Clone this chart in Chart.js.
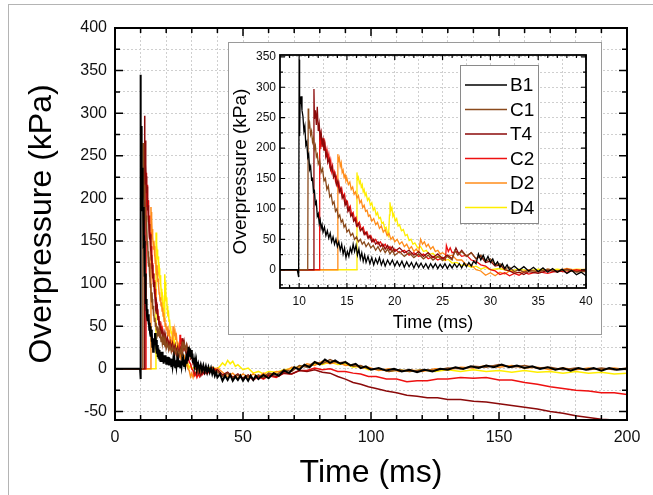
<!DOCTYPE html>
<html><head><meta charset="utf-8">
<script src="https://cdn.jsdelivr.net/npm/chart.js@4/dist/chart.umd.min.js"></script>
<style>
html,body{margin:0;padding:0;background:#fff;overflow:hidden;width:653px;height:495px;}
#outer{position:absolute;left:8px;top:4px;width:700px;height:600px;border:1px solid #b4b4b4;}
#main{position:absolute;left:0;top:0;}
#insetBox{position:absolute;left:228px;top:42px;width:372px;height:291px;border:1px solid #9a9a9a;background:#fff;}
#inset{position:absolute;left:229px;top:43px;}
</style></head>
<body>
<div id="outer"></div>
<canvas id="main" width="653" height="495"></canvas>
<div id="insetBox"></div>
<canvas id="inset" width="372" height="291"></canvas>
<script>
// ---------- DATA (time ms, overpressure kPa) ----------
const seriesNames = ['B1','C1','T4','C2','D2','D4'];

const B1 = [[0,0],[9.8,0],[9.95,-12],[10.0,345],[10.05,220],[10.1,272],[10.2,285],[10.3,262],[10.4,252],[10.5,228],[10.6,236],[10.7,205],[10.8,210],[10.9,185],[11.0,190],[11.1,165],[11.2,170],[11.3,148],[11.4,150],[11.5,128],[11.6,130],[11.7,108],[11.8,112],[11.9,88],[12.0,92],[12.1,76],[12.2,82],[12.3,68],[12.4,74],[12.5,62],[12.65,70],[12.8,56],[12.95,64],[13.1,52],[13.25,60],[13.4,46],[13.55,54],[13.7,42],[13.85,50],[14.0,38],[14.15,46],[14.3,32],[14.45,42],[14.6,26],[14.75,36],[14.9,20],[15.05,30],[15.2,22],[15.35,36],[15.5,28],[15.65,42],[15.8,30],[15.95,40],[16.1,24],[16.25,34],[16.4,18],[16.55,28],[16.7,14],[16.85,24],[17.0,12],[17.2,22],[17.4,10],[17.6,20],[17.8,8],[18.0,18],[18.2,10],[18.4,20],[18.6,8],[18.8,16],[19.0,6],[19.25,16],[19.5,8],[19.75,16],[20,6],[20.25,14],[20.5,6],[20.75,14],[21,4],[21.25,13],[21.5,5],[21.75,12],[22,3],[22.25,12],[22.5,4],[22.75,11],[23,3],[23.25,10],[23.5,2],[23.75,10],[24,3],[24.25,10],[24.5,2],[24.75,9],[25,3],[25.25,10],[25.5,2],[25.75,9],[26,3],[26.25,10],[26.5,4],[26.75,10],[27,3],[27.25,11],[27.5,5],[27.75,12],[28,6],[28.25,14],[28.5,10],[28.75,26],[29,16],[29.25,24],[29.5,14],[29.75,22],[30,12],[30.25,18],[30.5,8],[30.75,13],[31,4],[31.25,10],[31.5,2],[31.75,8],[32,0],[32.5,6],[33,-1],[33.5,5],[34,-2],[34.5,4],[35,-3],[35.5,3],[36,-4],[36.5,2],[37,-4],[37.5,1],[38,-6],[38.5,-1],[39,-8],[39.5,-4],[40,-10],
[41,-6],[42,-14],[43,-8],[44,-13],[45,-7],[46,-14],[47,-9],[48,-13],[49,-8],[50,-14],[51,-9],[52,-14],[53,-8],[54,-13],[55,-8],[56,-12],[58,-7],[60,-11],[62,-5],[64,-8],[66,-2],[68,-5],[70,2],[72,-1],[74,5],[76,2],[78,8],[80,5],[82,11],[84,7],[86,10],[88,6],[90,8],[92,4],[94,6],[96,1],[98,3],[100,-1],[103,1],[106,-2],[109,0],[112,-3],[115,-1],[118,-4],[121,-1],[124,-3],[127,0],[130,-1],[133,2],[136,0],[139,3],[142,1],[145,4],[148,2],[151,5],[154,2],[157,4],[160,1],[163,3],[166,0],[169,2],[172,-1],[175,1],[178,-2],[181,1],[184,-1],[187,1],[190,-2],[193,1],[196,-1],[200,0]];

const C1 = [[0,0],[10.9,0],[10.95,265],[11.0,232],[11.1,240],[11.2,222],[11.3,228],[11.4,210],[11.5,216],[11.6,198],[11.7,204],[11.8,186],[11.9,190],[12.0,174],[12.15,180],[12.3,160],[12.45,166],[12.6,146],[12.75,150],[12.9,132],[13.05,138],[13.2,120],[13.35,124],[13.5,108],[13.65,112],[13.8,96],[13.95,100],[14.1,86],[14.25,90],[14.4,78],[14.55,82],[14.7,70],[14.85,74],[15.0,62],[15.2,66],[15.4,56],[15.6,60],[15.8,50],[16.0,54],[16.2,46],[16.4,50],[16.6,42],[16.8,46],[17.0,38],[17.25,44],[17.5,36],[17.75,40],[18,32],[18.25,38],[18.5,30],[18.75,36],[19,28],[19.25,34],[19.5,26],[19.75,32],[20,24],[20.5,30],[21,22],[21.5,28],[22,20],[22.5,26],[23,18],[23.5,24],[24,16],[24.5,22],[25,15],[25.5,22],[26,16],[26.3,32],[26.6,24],[27,30],[27.5,22],[28,28],[28.5,18],[29,24],[29.5,14],[30,18],[30.5,8],[31,10],[31.5,2],[32,4],[32.5,-3],[33,0],[33.5,-4],[34,-1],[35,-3],[36,1],[37,-2],[38,0],[39,-4],[40,-3],
[42,-9],[44,-5],[46,-11],[48,-7],[50,-12],[52,-8],[54,-12],[56,-7],[58,-10],[60,-5],[63,-7],[66,-1],[69,-3],[72,4],[75,2],[78,8],[81,6],[84,11],[87,7],[90,8],[93,3],[96,4],[99,0],[103,0],[107,-3],[111,-1],[115,-3],[120,-1],[125,-2],[130,1],[135,0],[140,3],[145,2],[150,5],[155,2],[160,4],[165,1],[170,2],[175,-1],[180,1],[185,-1],[190,1],[195,-1],[200,1]];

const T4 = [[0,0],[11.5,0],[11.55,297],[11.6,248],[11.7,262],[11.8,238],[11.9,268],[12.0,228],[12.1,240],[12.2,218],[12.3,226],[12.4,206],[12.5,214],[12.6,196],[12.7,204],[12.8,186],[12.9,192],[13.0,176],[13.15,182],[13.3,164],[13.45,170],[13.6,152],[13.75,158],[13.9,140],[14.05,146],[14.2,128],[14.35,134],[14.5,118],[14.65,122],[14.8,106],[14.95,112],[15.1,96],[15.25,102],[15.4,88],[15.55,92],[15.7,80],[15.85,84],[16.0,72],[16.2,76],[16.4,64],[16.6,68],[16.8,58],[17.0,62],[17.2,52],[17.4,56],[17.6,46],[17.8,50],[18,42],[18.25,46],[18.5,38],[18.75,42],[19,34],[19.25,40],[19.5,32],[19.75,38],[20,30],[20.5,36],[21,28],[21.5,32],[22,24],[22.5,30],[23,22],[23.5,28],[24,20],[24.5,26],[25,18],[25.5,24],[26,18],[26.4,36],[26.7,26],[27,32],[27.5,22],[28,28],[28.5,18],[29,22],[29.5,12],[30,14],[30.5,6],[31,8],[31.5,0],[32,-2],[32.5,-6],[33,-4],[33.5,-8],[34,-3],[35,-6],[36,-1],[37,-4],[38,1],[39,-3],[40,-1],
[42,-7],[44,-4],[46,-10],[48,-6],[50,-11],[52,-7],[54,-12],[56,-8],[58,-11],[60,-7],[63,-9],[66,-5],[69,-6],[72,-2],[75,-3],[78,-1],[81,-4],[84,-5],[87,-9],[90,-12],[93,-16],[96,-18],[99,-21],[102,-23],[106,-26],[110,-28],[114,-31],[118,-32],[122,-34],[126,-34],[130,-36],[135,-36],[140,-38],[145,-39],[150,-41],[155,-43],[160,-45],[165,-47],[170,-50],[175,-52],[180,-55],[185,-57],[190,-59],[195,-60],[200,-60]];

const C2 = [[0,0],[12.1,0],[12.15,230],[12.2,198],[12.3,224],[12.4,202],[12.5,216],[12.6,196],[12.7,206],[12.8,190],[12.9,198],[13.0,182],[13.1,190],[13.2,172],[13.3,180],[13.4,162],[13.5,170],[13.6,154],[13.7,160],[13.8,146],[13.9,152],[14.0,138],[14.15,144],[14.3,128],[14.45,134],[14.6,118],[14.75,124],[14.9,108],[15.05,112],[15.2,98],[15.35,104],[15.5,90],[15.65,94],[15.8,82],[15.95,86],[16.1,72],[16.3,78],[16.5,66],[16.7,70],[16.9,58],[17.1,62],[17.3,52],[17.5,56],[17.75,46],[18,50],[18.25,42],[18.5,46],[18.75,38],[19,42],[19.25,34],[19.5,38],[19.75,30],[20,34],[20.5,28],[21,32],[21.5,24],[22,28],[22.5,22],[23,26],[23.5,18],[24,22],[24.5,16],[25,20],[25.3,16],[25.4,40],[25.6,30],[25.8,36],[26,28],[26.5,30],[27,22],[27.5,24],[28,16],[28.5,14],[29,8],[29.5,6],[30,0],[30.5,-2],[31,-8],[31.5,-5],[32,-10],[32.5,-6],[33,-9],[33.5,-4],[34,-7],[35,-3],[36,-6],[37,-2],[38,-4],[39,0],[40,-3],
[42,-8],[44,-5],[46,-11],[48,-7],[50,-12],[52,-8],[54,-13],[56,-9],[58,-12],[60,-8],[63,-10],[66,-5],[69,-6],[72,-2],[75,-2],[78,1],[81,-1],[84,0],[87,-3],[90,-3],[93,-5],[96,-6],[99,-9],[102,-9],[106,-12],[110,-12],[114,-15],[118,-14],[122,-14],[126,-12],[130,-12],[135,-10],[140,-11],[145,-10],[150,-13],[155,-13],[160,-16],[165,-18],[170,-21],[175,-23],[180,-25],[185,-26],[190,-28],[195,-28],[200,-30]];

const D2 = [[0,0],[14.0,0],[14.05,190],[14.1,178],[14.2,184],[14.3,170],[14.4,176],[14.5,160],[14.6,164],[14.7,152],[14.8,156],[14.9,146],[15.0,150],[15.15,140],[15.3,144],[15.45,132],[15.6,136],[15.75,124],[15.9,128],[16.05,118],[16.2,122],[16.35,110],[16.5,114],[16.65,102],[16.8,106],[16.95,96],[17.1,98],[17.25,88],[17.4,90],[17.6,80],[17.8,84],[18,74],[18.2,78],[18.4,68],[18.6,72],[18.8,62],[19,66],[19.2,56],[19.4,60],[19.6,50],[19.8,54],[20,46],[20.25,50],[20.5,42],[20.75,46],[21,38],[21.25,42],[21.5,34],[21.75,38],[22,30],[22.25,34],[22.5,28],[22.7,50],[22.9,42],[23.1,46],[23.3,38],[23.5,42],[23.75,34],[24,38],[24.25,30],[24.5,32],[24.75,26],[25,28],[25.5,22],[26,24],[26.5,16],[27,16],[27.5,8],[28,8],[28.5,0],[29,-2],[29.5,-9],[30,-5],[30.5,-10],[31,-4],[31.5,-7],[32,-2],[33,-5],[34,0],[35,-3],[36,1],[37,-2],[38,2],[39,-1],[40,1],
[42,-4],[44,-9],[46,-5],[48,-11],[50,-6],[52,-10],[54,-6],[56,-10],[58,-5],[60,-8],[63,-3],[66,-4],[69,2],[72,1],[75,6],[78,4],[81,9],[84,6],[87,8],[90,4],[93,5],[96,1],[99,2],[103,-2],[107,0],[111,-3],[115,-1],[120,-3],[125,0],[130,-1],[135,2],[140,1],[145,4],[150,2],[155,4],[160,1],[165,2],[170,-1],[175,1],[180,-1],[185,1],[190,-1],[195,1],[200,-1]];

const D4 = [[0,0],[16.0,0],[16.05,160],[16.1,148],[16.2,152],[16.3,142],[16.4,146],[16.5,136],[16.6,140],[16.7,128],[16.8,132],[16.9,122],[17.0,126],[17.15,114],[17.3,118],[17.45,106],[17.6,110],[17.75,98],[17.9,102],[18.05,90],[18.2,94],[18.35,84],[18.5,86],[18.65,76],[18.8,78],[18.95,68],[19.1,70],[19.25,60],[19.35,56],[19.45,90],[19.5,111],[19.6,98],[19.7,102],[19.8,88],[19.9,92],[20.05,80],[20.2,84],[20.35,72],[20.5,74],[20.7,64],[20.9,66],[21.1,56],[21.3,58],[21.5,48],[21.7,50],[21.9,42],[22.1,44],[22.4,36],[22.7,38],[23,30],[23.3,32],[23.6,25],[24,27],[24.4,20],[24.8,22],[25.2,15],[25.6,17],[26,11],[26.5,12],[27,7],[27.5,8],[28,4],[28.5,6],[29,1],[29.5,4],[30,0],[31,2],[32,-2],[33,1],[34,-2],[35,1],[36,-1],[37,1],[38,-1],[39,1],[40,0],
[41,3],[42,7],[43,4],[44,10],[45,6],[46,9],[47,3],[48,5],[50,-1],[52,1],[54,-5],[56,-3],[58,-6],[60,-3],[63,-4],[66,-1],[69,0],[72,3],[75,3],[78,6],[81,5],[84,8],[87,5],[90,6],[93,2],[96,3],[99,-1],[103,0],[107,-3],[111,-1],[115,-3],[120,-1],[125,-3],[130,-1],[135,-3],[140,-1],[145,-3],[150,-2],[155,-4],[160,-2],[165,-4],[170,-3],[175,-5],[180,-3],[185,-5],[190,-4],[195,-6],[200,-5]];

// tick labels / grid positions
const mainXLabels = [0,50,100,150,200];
const mainXGrid = [0,10,20,30,40,50,60,70,80,90,100,110,120,130,140,150,160,170,180,190,200];
const mainYLabels = [-50,0,50,100,150,200,250,300,350,400];
const mainYGrid = [-50,-25,0,25,50,75,100,125,150,175,200,225,250,275,300,325,350,375,400];
const insetXLabels = [10,15,20,25,30,35,40];
const insetXGrid = [10,12.5,15,17.5,20,22.5,25,27.5,30,32.5,35,37.5,40];
const insetXMinor = [9,10,11,12,13,14,15,16,17,18,19,20,21,22,23,24,25,26,27,28,29,30,31,32,33,34,35,36,37,38,39,40];
const insetYLabels = [0,50,100,150,200,250,300,350];
const insetYGrid = [-25,0,25,50,75,100,125,150,175,200,225,250,275,300,325,350];

// ---------- STYLE ----------
const seriesData = [B1, C1, T4, C2, D2, D4];
const seriesColors = ['#000000','#8a4a1c','#8b0a0a','#ee1010','#ff8c1a','#ffee00'];
const FONT = "'Liberation Sans', Arial, sans-serif";
Chart.defaults.font.family = FONT;
Chart.defaults.color = '#000';

function makeDatasets(widths){
  return seriesNames.map((n,i)=>({
    label:n,
    data: seriesData[i].map(p=>({x:p[0], y:p[1]})),
    borderColor: seriesColors[i],
    backgroundColor: seriesColors[i],
    borderWidth: widths[i],
    pointRadius:0, tension:0, fill:false
  }));
}

const frameTicks = {
  id:'frameTicks',
  afterDatasetsDraw(chart, args, o){
    const {ctx, chartArea:{left,right,top,bottom}, scales:{x,y}} = chart;
    ctx.save();
    ctx.strokeStyle = '#000';
    ctx.lineWidth = o.tw;
    ctx.beginPath();
    const tx = (vals, len) => vals.forEach(v=>{ const p = x.getPixelForValue(v);
      ctx.moveTo(p,bottom); ctx.lineTo(p,bottom-len); ctx.moveTo(p,top); ctx.lineTo(p,top+len); });
    const ty = (vals, len) => vals.forEach(v=>{ const p = y.getPixelForValue(v);
      ctx.moveTo(left,p); ctx.lineTo(left+len,p); ctx.moveTo(right,p); ctx.lineTo(right-len,p); });
    tx(o.xMinor, o.minLen); tx(o.xMajor, o.majLen);
    ty(o.yMinor, o.minLen); ty(o.yMajor, o.majLen);
    ctx.stroke();
    ctx.lineWidth = o.bw;
    ctx.strokeRect(left, top, right-left, bottom-top);
    ctx.restore();
  }
};

const insetLegend = {
  id:'insetLegend',
  afterDraw(chart){
    const ctx = chart.ctx;
    ctx.save();
    ctx.fillStyle = '#fff';
    ctx.fillRect(231, 22, 78, 158);
    ctx.strokeStyle = '#8a8a8a'; ctx.lineWidth = 1;
    ctx.strokeRect(231.5, 22.5, 78, 158);
    ctx.font = '19px ' + FONT;
    ctx.textBaseline = 'middle';
    chart.data.datasets.forEach((d,i)=>{
      const yy = 42 + i*24.5;
      ctx.strokeStyle = d.borderColor; ctx.lineWidth = 1.5;
      ctx.beginPath(); ctx.moveTo(236, yy); ctx.lineTo(278, yy); ctx.stroke();
      ctx.fillStyle = '#000';
      ctx.fillText(d.label, 281, yy+1);
    });
    ctx.restore();
  }
};

const gridStyle = {color:'#cfcfcf', lineWidth:1, drawTicks:false};

new Chart(document.getElementById('main'), {
  type:'line',
  data:{datasets: makeDatasets([2,1.5,1.5,1.5,1.5,1.5])},
  plugins:[frameTicks],
  options:{
    responsive:false, animation:false, devicePixelRatio:1,
    layout:{padding:{top:28,right:26,left:0,bottom:0}},
    plugins:{legend:{display:false}, tooltip:{enabled:false},
      frameTicks:{xMajor:mainXLabels, xMinor:mainXGrid, yMajor:mainYLabels, yMinor:mainYGrid, majLen:8, minLen:5, tw:1.5, bw:2}},
    scales:{
      x:{type:'linear', min:0, max:200,
        afterBuildTicks: s=>{ s.ticks = mainXGrid.map(v=>({value:v})); },
        afterFit: s=>{ s.height = 75; },
        ticks:{autoSkip:false, maxRotation:0, padding:8, font:{size:16}, color:'#111',
          callback:v=> mainXLabels.includes(v) ? String(v) : ''},
        grid:gridStyle, border:{display:false, dash:[2,2]},
        title:{display:true, text:'Time (ms)', font:{size:32}, color:'#000', padding:{top:0,bottom:3}}
      },
      y:{type:'linear', min:-60, max:400,
        afterBuildTicks: s=>{ s.ticks = mainYGrid.map(v=>({value:v})); },
        afterFit: s=>{ s.width = 115; },
        ticks:{autoSkip:false, padding:8, font:{size:16}, color:'#111',
          callback:v=> mainYLabels.includes(v) ? String(v) : ''},
        grid:gridStyle, border:{display:false, dash:[2,2]},
        title:{display:true, text:'Overpressure (kPa)', font:{size:32}, color:'#000', padding:{top:23,bottom:0}}
      }
    }
  }
});

new Chart(document.getElementById('inset'), {
  type:'line',
  data:{datasets: makeDatasets([1.3,1.3,1.3,1.3,1.3,1.3])},
  plugins:[frameTicks, insetLegend],
  options:{
    responsive:false, animation:false, devicePixelRatio:1,
    layout:{padding:{top:12,right:15,left:0,bottom:0}},
    plugins:{legend:{display:false}, tooltip:{enabled:false},
      frameTicks:{xMajor:insetXLabels, xMinor:insetXMinor, yMajor:insetYLabels, yMinor:insetYGrid, majLen:5, minLen:3, tw:1.2, bw:1.8}},
    scales:{
      x:{type:'linear', min:8, max:40,
        afterBuildTicks: s=>{ s.ticks = insetXGrid.map(v=>({value:v})); },
        afterFit: s=>{ s.height = 46; },
        ticks:{autoSkip:false, maxRotation:0, padding:6, font:{size:12}, color:'#111',
          callback:v=> insetXLabels.includes(v) ? String(v) : ''},
        grid:gridStyle, border:{display:false, dash:[2,2]},
        title:{display:true, text:'Time (ms)', font:{size:18}, color:'#000', padding:{top:0,bottom:0}}
      },
      y:{type:'linear', min:-30, max:353,
        afterBuildTicks: s=>{ s.ticks = insetYGrid.map(v=>({value:v})); },
        afterFit: s=>{ s.width = 51; },
        ticks:{autoSkip:false, padding:4, font:{size:12}, color:'#111',
          callback:v=> insetYLabels.includes(v) ? String(v) : ''},
        grid:gridStyle, border:{display:false, dash:[2,2]},
        title:{display:true, text:'Overpressure (kPa)', font:{size:19}, color:'#000', padding:{top:0,bottom:0}}
      }
    }
  }
});
</script>
</body></html>
